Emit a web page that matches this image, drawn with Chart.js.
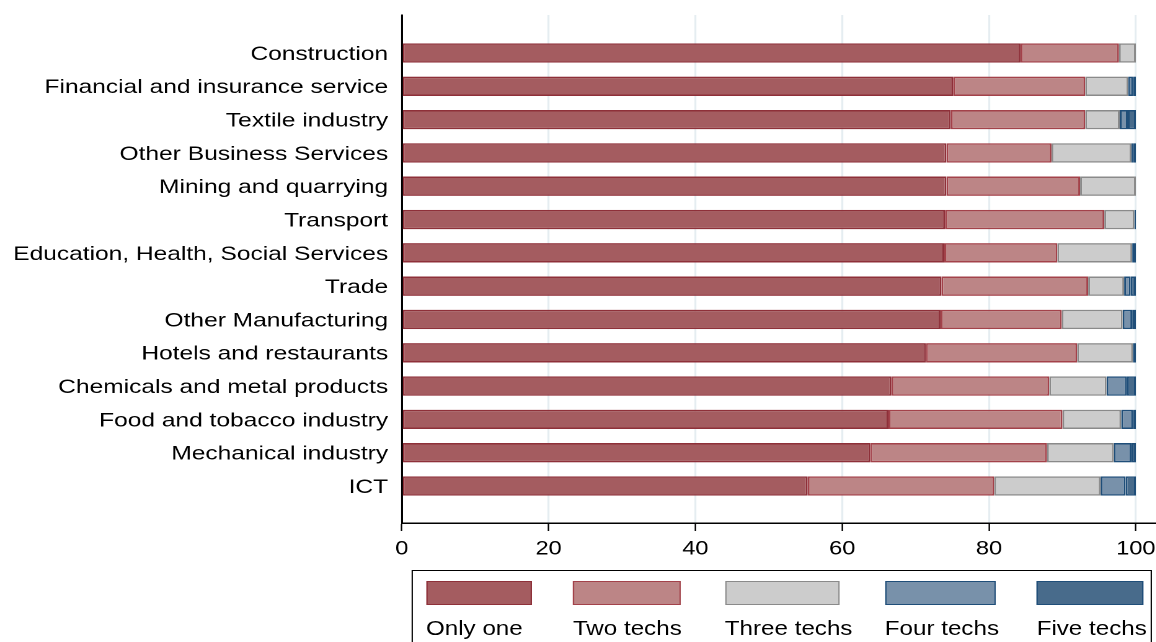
<!DOCTYPE html>
<html>
<head>
<meta charset="utf-8">
<script src="https://cdn.jsdelivr.net/npm/chart.js@4/dist/chart.umd.min.js"></script>
<style>
  html, body { margin: 0; padding: 0; background: #fff; overflow: hidden; }
  /* the reference is stretched horizontally, so draw narrow and widen it */
  #stage {
    position: absolute; left: 0; top: 0;
    width: 932px; height: 642px;
    transform: scaleX(1.24); transform-origin: 0 0;
    font-family: "Liberation Sans", Arial, sans-serif;
  }
  #plot { position: absolute; left: 0; top: 0; width: 932px; height: 560px; }
  #legend {
    position: absolute; left: 332px; top: 570px;
    width: 597px; height: 90px;
    border: 1.4px solid #000; box-sizing: border-box;
  }
  .item { position: absolute; top: 0; }
  .swatch { position: absolute; top: 10px; height: 24px; box-sizing: border-box; border: 1.5px solid; }
  .label { position: absolute; top: 48px; font-size: 19.5px; line-height: 1; white-space: nowrap; color: #000; }
</style>
</head>
<body>
<div id="stage">
  <div id="plot"><canvas id="chart"></canvas></div>
  <div id="legend"></div>
</div>
<script>
const categories = [
  "Construction",
  "Financial and insurance service",
  "Textile industry",
  "Other Business Services",
  "Mining and quarrying",
  "Transport",
  "Education, Health, Social Services",
  "Trade",
  "Other Manufacturing",
  "Hotels and restaurants",
  "Chemicals and metal products",
  "Food and tobacco industry",
  "Mechanical industry",
  "ICT"
];

const seriesNames = ["Only one", "Two techs", "Three techs", "Four techs", "Five techs"];

const onlyOne    = [84.3, 75.1, 74.8, 74.2, 74.2, 74.0, 73.9, 73.5, 73.4, 71.4, 66.7, 66.3, 63.8, 55.3];
const twoTechs   = [13.4, 18.0, 18.3, 14.3, 18.2, 21.7, 15.4, 20.0, 16.5, 20.6, 21.5, 23.7, 24.1, 25.4];
const threeTechs = [2.3, 5.85, 4.7, 10.9, 7.6, 4.1, 10.2, 4.9, 8.3, 7.6, 7.8, 8.0, 9.1, 14.5];
const fourTechs  = [0, 0.65, 1.1, 0.2, 0, 0.2, 0, 0.9, 1.3, 0, 2.8, 1.6, 2.4, 3.4];
const fiveTechs  = [0, 0.4, 1.1, 0.4, 0, 0, 0.5, 0.7, 0.5, 0.4, 1.2, 0.4, 0.6, 1.4];

const xTicks = [0, 20, 40, 60, 80, 100];

const fills   = ["#a45c60", "#bc8586", "#cccccc", "#7891aa", "#486b8b"];
const borders = ["#8e3039", "#a3424a", "#8a8a8a", "#1f4e79", "#1f4e79"];

const series = [onlyOne, twoTechs, threeTechs, fourTechs, fiveTechs];

const datasets = series.map((vals, k) => ({
  label: seriesNames[k],
  // y holds the row index; empty segments are left out
  data: vals.map((v, i) => ({ x: v, y: i })).filter((p) => p.x > 0),
  backgroundColor: fills[k],
  borderColor: borders[k],
  borderWidth: 1.5,
  borderSkipped: false,
  categoryPercentage: 1,
  barPercentage: 0.58
}));

const font = { family: "'Liberation Sans', Arial, sans-serif" };

new Chart(document.getElementById("chart"), {
  type: "bar",
  data: { datasets },
  options: {
    indexAxis: "y",
    responsive: true,
    maintainAspectRatio: false,
    devicePixelRatio: 2,
    animation: false,
    layout: { padding: { top: 15, right: 0, bottom: 0, left: 0 } },
    plugins: { legend: { display: false }, tooltip: { enabled: false } },
    scales: {
      x: {
        type: "linear",
        stacked: true,
        min: 0,
        max: 102.7,
        afterBuildTicks: (s) => { s.ticks = xTicks.map((v) => ({ value: v })); },
        afterFit: (s) => { s.height = 37; s.paddingLeft = 0; s.paddingRight = 0; },
        grid: { color: "#e5edf1", lineWidth: 1.6, tickColor: "#000", tickLength: 8, tickWidth: 1.2 },
        border: { display: true, color: "#000", width: 1.5 },
        ticks: { color: "#000", font: { ...font, size: 19 }, padding: 7, maxRotation: 0 }
      },
      y: {
        type: "linear",
        stacked: true,
        reverse: true,
        offset: false,
        min: -1.14,
        max: 14.11,
        afterBuildTicks: (s) => { s.ticks = categories.map((c, i) => ({ value: i })); },
        afterFit: (s) => { s.width = 324; s.paddingTop = 0; s.paddingBottom = 0; },
        grid: { display: false, drawTicks: false, offset: false },
        border: { display: true, color: "#000", width: 1.5 },
        ticks: {
          color: "#000",
          font: { ...font, size: 19.8 },
          padding: 11,
          labelOffset: 1.5,
          autoSkip: false,
          callback: (v) => categories[v] ?? ""
        }
      }
    }
  }
});

// legend in the Stata style: box on top, label below
const legendX = [10.5, 129, 251.5, 380.5, 503];
const legendW = [85.5, 86.5, 92, 89.5, 86];
const legend = document.getElementById("legend");
seriesNames.forEach((name, k) => {
  const item = document.createElement("div");
  item.className = "item";
  item.style.left = legendX[k] + "px";
  const sw = document.createElement("div");
  sw.className = "swatch";
  sw.style.width = legendW[k] + "px";
  sw.style.background = fills[k];
  sw.style.borderColor = borders[k];
  const lb = document.createElement("div");
  lb.className = "label";
  lb.textContent = name;
  item.appendChild(sw);
  item.appendChild(lb);
  legend.appendChild(item);
});
</script>
</body>
</html>
